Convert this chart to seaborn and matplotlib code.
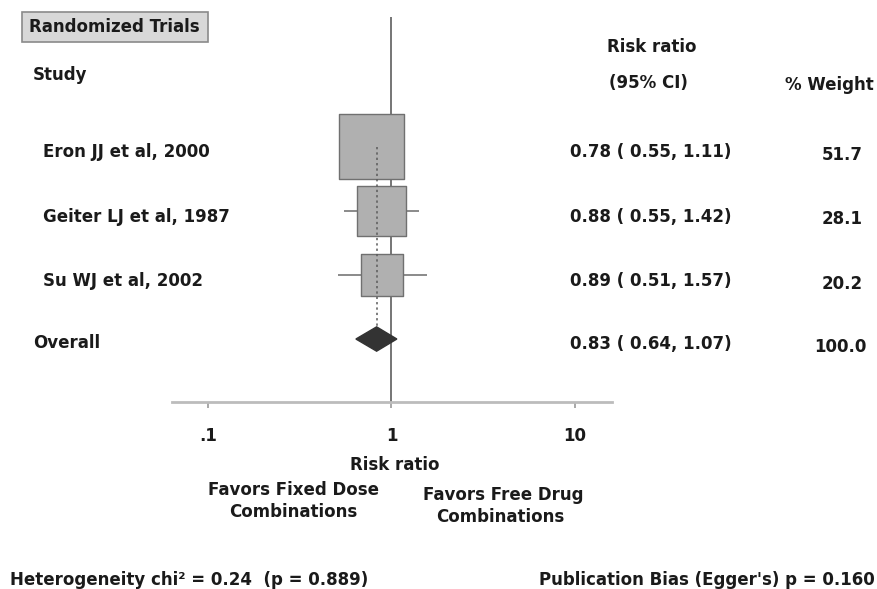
import matplotlib
matplotlib.use("Agg")
import matplotlib.pyplot as plt
from matplotlib.patches import Rectangle
import seaborn as sns
import pandas as pd

# Study-level results
studies = ["Eron JJ et al, 2000", "Geiter LJ et al, 1987", "Su WJ et al, 2002"]
rr = [0.78, 0.88, 0.89]
ci_low = [0.55, 0.55, 0.51]
ci_high = [1.11, 1.42, 1.57]
weights = [51.7, 28.1, 20.2]

# Pooled estimate
overall_label = "Overall"
overall_rr = 0.83
overall_low = 0.64
overall_high = 1.07
overall_weight = 100.0

tick_values = [0.1, 1, 10]
tick_labels = [".1", "1", "10"]

W, H = 877, 589
FS = 12
sns.set_theme(style="white")
plt.rcParams["font.family"] = ["DejaVu Sans"]
plt.rcParams["font.weight"] = "bold"

fig = plt.figure(figsize=(W / 100, H / 100), dpi=100)
fig.patch.set_facecolor("white")

# Forest-plot axes (pixel box: x 172..612, y 17..402)
ax = fig.add_axes([172 / W, 1 - 402 / H, (612 - 172) / W, (402 - 17) / H])
ax.set_xscale("log")
ax.set_xlim(0.0637, 15.91)
ax.set_ylim(3.984, -2.031)
ax.set_facecolor("white")

df = pd.DataFrame({"study": studies, "rr": rr, "low": ci_low, "high": ci_high,
                   "weight": weights, "row": list(range(len(studies)))})

# Null line at RR = 1
ax.axvline(1, color="#6a6a6a", lw=1.3, zorder=1)

# Confidence intervals
ax.hlines(df["row"], df["low"], df["high"], color="#8a8a8a", lw=1.4, zorder=2)

# Weighted boxes
sns.scatterplot(data=df, x="rr", y="row", size="weight", sizes=(940, 2190),
                size_norm=(min(weights), max(weights)), marker="s",
                color="#b0b0b0", edgecolor="#707070", linewidth=1.0,
                legend=False, ax=ax, zorder=3)

# Dotted line at the pooled estimate
drow = len(studies)
ax.plot([overall_rr, overall_rr], [0, drow - 0.19], ls=(0, (1.5, 2)),
        color="#5a5a5a", lw=1.1, zorder=4)

# Pooled diamond
ax.fill([overall_low, overall_rr, overall_high, overall_rr],
        [drow, drow - 0.19, drow, drow + 0.19], color="#333333", zorder=5)

# Axis styling
for side in ["left", "right", "top"]:
    ax.spines[side].set_visible(False)
ax.spines["bottom"].set_color("#bcbcbc")
ax.spines["bottom"].set_linewidth(2)
ax.set_yticks([])
ax.set_xticks(tick_values)
ax.set_xticklabels(tick_labels, fontweight="bold")
ax.minorticks_off()
ax.tick_params(axis="x", bottom=True, length=4, width=1.2, color="#999999",
               pad=14, labelsize=FS, labelcolor="#1a1a1a")
ax.set_xlabel("")
ax.set_ylabel("")


def ftxt(x, y, s, **kw):
    kw.setdefault("fontsize", FS)
    kw.setdefault("color", "#1a1a1a")
    kw.setdefault("va", "center")
    kw.setdefault("fontweight", "bold")
    fig.text(x / W, 1 - y / H, s, **kw)


# Header box
fig.patches.append(Rectangle((22 / W, 1 - 42 / H), (208 - 22) / W, 30 / H,
                             transform=fig.transFigure, facecolor="#d8d8d8",
                             edgecolor="#8a8a8a", lw=1.2))
ftxt(114, 27, "Randomized Trials", ha="center")
ftxt(33, 75, "Study", ha="left")
ftxt(652, 47, "Risk ratio", ha="center")
ftxt(648, 83, "(95% CI)", ha="center")
ftxt(829, 85, "% Weight", ha="center")

# Row labels and numbers
for i, r in df.iterrows():
    y = 152 + 64.5 * i
    ftxt(43, y, r["study"], ha="left")
    ftxt(651, y, f"{r['rr']:.2f} ( {r['low']:.2f}, {r['high']:.2f})", ha="center")
    ftxt(842, y + 3, f"{r['weight']:.1f}", ha="center")
yo = 152 + 64.5 * drow - 2
ftxt(33, yo, overall_label, ha="left")
ftxt(651, yo, f"{overall_rr:.2f} ( {overall_low:.2f}, {overall_high:.2f})", ha="center")
ftxt(840, yo + 3, f"{overall_weight:.1f}", ha="center")

# Axis caption and direction labels
ftxt(395, 465, "Risk ratio", ha="center")
ftxt(293, 490, "Favors Fixed Dose", ha="center")
ftxt(293, 512, "Combinations", ha="center")
ftxt(503, 495, "Favors Free Drug", ha="center")
ftxt(500, 517, "Combinations", ha="center")

# Footer statistics
ftxt(10, 580, "Heterogeneity chi² = 0.24  (p = 0.889)", ha="left")
ftxt(875, 580, "Publication Bias (Egger's) p = 0.160", ha="right")

fig.savefig("out.png", dpi=100, facecolor="white")
